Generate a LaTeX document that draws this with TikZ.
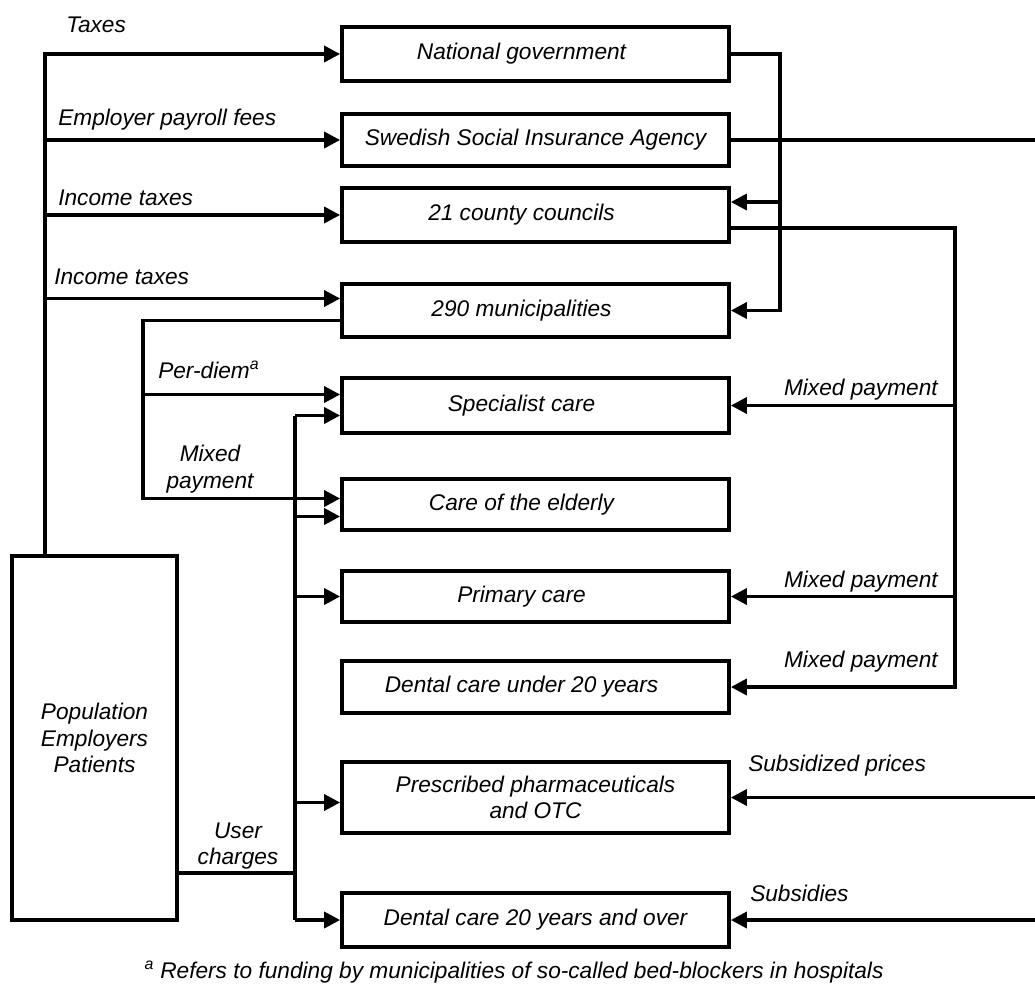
\documentclass[tikz,border=0pt]{standalone}
\usepackage{fontspec}
\setmainfont{Liberation Sans}
\usetikzlibrary{arrows.meta,calc}
\begin{document}
\begin{tikzpicture}[x=0.75pt,y=-0.75pt,
  txt/.style={font=\fontsize{17}{20}\selectfont\itshape, inner sep=0pt},
  box/.style={txt, draw, line width=2.8pt, align=center, minimum width=290.25pt},
  boxl/.style={box, execute at end node={\hspace*{21pt}}},
  ln/.style={line width=2.6pt},
  arr/.style={ln, -{Triangle[length=12pt,width=12pt]}}]
\useasboundingbox (0,0) rectangle (1035,983);

% funding bodies and care providers
\node[boxl, minimum height=40.5pt]  (nat)  at (535.5,54)    {National government};
\node[box,  minimum height=39pt]    (ssia) at (535.5,140)   {Swedish Social Insurance Agency};
\node[boxl, minimum height=40.5pt]  (cc)   at (535.5,215)   {21 county councils};
\node[boxl, minimum height=39.75pt] (mun)  at (535.5,310.5) {290 municipalities};
\node[boxl, minimum height=41.25pt] (spec) at (535.5,405.5) {Specialist care};
\node[boxl, minimum height=38.25pt] (eld)  at (535.5,504.5) {Care of the elderly};
\node[boxl, minimum height=38.25pt] (prim) at (535.5,596.5) {Primary care};
\node[boxl, minimum height=39pt]    (dyo)  at (535.5,687)   {Dental care under 20 years};
\node[box,  minimum height=53.25pt] (pres) at (535.5,797.5) {Prescribed pharmaceuticals\\and OTC};
\node[box,  minimum height=40.5pt]  (dad)  at (535.5,920)   {Dental care 20 years and over};
\node[box, minimum width=123.75pt, minimum height=273pt] (pop) at (94.5,738)
  {Population\\Employers\\Patients};

% helper points
\coordinate (redge) at (1035,0);
\coordinate (trunk) at ($(pop.north west)+(35,0)$);
\coordinate (munin) at ($(mun.west)+(0,-12)$);
\coordinate (nx)    at ($(nat.east)+(49,0)$);
\coordinate (ccin)  at ($(cc.east)+(0,-13)$);
\coordinate (ccout) at ($(cc.east)+(0,13)$);
\coordinate (cx)    at ($(ccout)+(224,0)$);
\coordinate (mout)  at ($(mun.west)+(0,10)$);
\coordinate (mx)    at ($(mout)+(-197,0)$);
\coordinate (specin) at ($(spec.west)+(0,-11)$);
\coordinate (eldin)  at ($(eld.west)+(0,-6)$);
\coordinate (specu)  at ($(spec.west)+(0,10)$);
\coordinate (eldu)   at ($(eld.west)+(0,12)$);
\coordinate (presu)  at ($(pres.west)+(0,5)$);
\coordinate (pout)   at ($(pop.east)+(0,135)$);
\coordinate (ux)     at ($(pout)+(116,0)$);

% taxes and fees
\draw[arr] (trunk) |- (nat.west);
\draw[arr] (trunk |- ssia.west) -- (ssia.west);
\draw[arr] (trunk |- cc.west) -- (cc.west);
\draw[arr] (trunk |- munin) -- (munin);

% national government grants
\draw[arr] (nat.east) -- (nx) |- (mun.east);
\draw[arr] (nx |- ccin) -- (ccin);

% social insurance agency
\draw[ln] (ssia.east) -- (ssia.east -| redge);

% county councils
\draw[arr] (ccout) -- (cx) |- (dyo.east);
\draw[arr] (cx |- spec.east) -- (spec.east);
\draw[arr] (cx |- prim.east) -- (prim.east);

% municipalities
\draw[arr] (mout) -- (mx) |- (eldin);
\draw[arr] (mx |- specin) -- (specin);

% user charges
\draw[ln] (pout) -- (ux);
\draw[ln] (ux |- specu) -- (ux |- dad.west);
\draw[arr] (ux |- specu) -- (specu);
\draw[arr] (ux |- eldu) -- (eldu);
\draw[arr] (ux |- prim.west) -- (prim.west);
\draw[arr] (ux |- presu) -- (presu);
\draw[arr] (ux |- dad.west) -- (dad.west);

% subsidies
\draw[arr] (pres.east -| redge) -- (pres.east);
\draw[arr] (dad.east -| redge) -- (dad.east);

% labels
\node[txt, anchor=west] (l1) at (66,25)  {Taxes};
\node[txt, anchor=west] (l2) at (58,120) {Employer payroll fees};
\node[txt, anchor=west] (l3) at (58,198) {Income taxes};
\node[txt, anchor=west] (l4) at (54,277) {Income taxes};
\node[txt, anchor=west] (l5) at (158,370) {Per-diem\textsuperscript{a}};
\node[txt, align=center] (l6) at (210,469) {Mixed\\payment};
\node[txt, anchor=east] (l7) at (938,390) {Mixed payment};
\node[txt, anchor=east] (l8) at (938,582) {Mixed payment};
\node[txt, anchor=east] (l9) at (938,662) {Mixed payment};
\node[txt, anchor=west] (l10) at (748,766) {Subsidized prices};
\node[txt, anchor=west] (l11) at (750,893) {Subsidies};
\node[txt, align=center] (l12) at (238,846) {User\\charges};
\node[txt] (fn) at (514,972) {\textsuperscript{a} Refers to funding by municipalities of so-called bed-blockers in hospitals};
\end{tikzpicture}
\end{document}
